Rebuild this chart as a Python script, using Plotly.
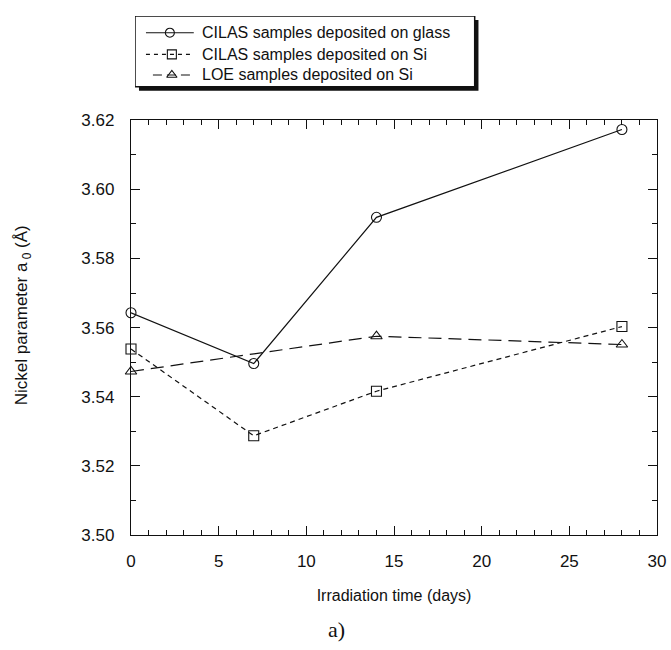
import plotly.graph_objects as go

# ---- data ----
days = [0, 7, 14, 28]
cilas_glass = [3.5643, 3.5496, 3.5919, 3.6173]
cilas_si = [3.5538, 3.5287, 3.5416, 3.5603]
loe_days = [0, 14, 28]
loe_si = [3.5473, 3.5575, 3.5551]

series_names = [
    "CILAS samples deposited on glass",
    "CILAS samples deposited on Si",
    "LOE samples deposited on Si",
]
x_ticks = [0, 5, 10, 15, 20, 25, 30]
y_ticks = [3.50, 3.52, 3.54, 3.56, 3.58, 3.60, 3.62]

FONT = "Liberation Sans, Arial, sans-serif"
BLACK = "#111111"
SI_DASH = "5px,4px"
LOE_DASH = "13px,7px"

fig = go.Figure()

fig.add_trace(go.Scatter(
    x=days, y=cilas_glass, mode="lines+markers", name=series_names[0],
    line=dict(color=BLACK, width=1.2),
    marker=dict(symbol="circle-open", size=10, color=BLACK, line=dict(width=1.1)),
    cliponaxis=False, showlegend=False))
fig.add_trace(go.Scatter(
    x=days, y=cilas_si, mode="lines+markers", name=series_names[1],
    line=dict(color=BLACK, width=1.2, dash=SI_DASH),
    marker=dict(symbol="square-open", size=10, color=BLACK, line=dict(width=1.1)),
    cliponaxis=False, showlegend=False))
fig.add_trace(go.Scatter(
    x=loe_days, y=loe_si, mode="lines+markers", name=series_names[2],
    line=dict(color=BLACK, width=1.2, dash=LOE_DASH),
    marker=dict(symbol="triangle-up-open", size=10, color=BLACK, line=dict(width=1.1)),
    cliponaxis=False, showlegend=False))

# ---- hand-drawn legend in an overlay axis (pixel-like coords) ----
leg_rows = [24, 46, 67]
leg_specs = [
    (146, 194, 170, "circle-open", None),
    (146, 194, 172, "square-open", "4px,4px"),
    (153, 194, 172, "triangle-up-open", "9px,5px"),
]
for (x0, x1, xm, sym, dash), yr, nm in zip(leg_specs, leg_rows, series_names):
    fig.add_trace(go.Scatter(
        x=[x0, x1], y=[yr, yr], mode="lines", xaxis="x2", yaxis="y2",
        line=dict(color=BLACK, width=1.1, dash=dash), showlegend=False, hoverinfo="skip"))
    fig.add_trace(go.Scatter(
        x=[xm], y=[yr], mode="markers", xaxis="x2", yaxis="y2",
        marker=dict(symbol=sym, size=9, color=BLACK, line=dict(width=1.1)),
        showlegend=False, hoverinfo="skip"))
    fig.add_annotation(x=200, y=yr, xref="x2", yref="y2", text=nm, showarrow=False,
                       xanchor="left", yanchor="middle",
                       font=dict(family=FONT, size=16, color=BLACK))

# shadow + box
fig.add_shape(type="rect", xref="x2", yref="y2", x0=139, x1=480, y0=11, y1=83,
              fillcolor=BLACK, line=dict(width=0), layer="below")
fig.add_shape(type="rect", xref="x2", yref="y2", x0=135, x1=476, y0=7, y1=79,
              fillcolor="white", line=dict(color=BLACK, width=1.5), layer="below")

axis_common = dict(
    showline=True, linecolor=BLACK, linewidth=1.3, mirror="ticks",
    ticks="inside", tickcolor=BLACK, tickwidth=1.2, ticklen=9,
    showgrid=False, zeroline=False,
    tickfont=dict(family=FONT, size=17, color=BLACK),
)

fig.update_layout(
    width=671, height=650,
    margin=dict(l=131, r=12, t=5, b=115),
    paper_bgcolor="white", plot_bgcolor="white",
    xaxis=dict(
        range=[0, 30], tickvals=x_ticks, ticktext=[str(v) for v in x_ticks],
        domain=[0, 1], anchor="y",
        minor=dict(dtick=1, ticks="inside", ticklen=5, tickcolor=BLACK, tickwidth=1.1),
        ticklabelstandoff=10,
        title=dict(text="Irradiation time (days)", standoff=20,
                   font=dict(family=FONT, size=16, color=BLACK)),
        **axis_common),
    yaxis=dict(
        range=[3.50, 3.62], tickvals=y_ticks, ticktext=[f"{v:.2f}" for v in y_ticks],
        domain=[0, 0.7962], anchor="x",
        minor=dict(dtick=0.01, ticks="inside", ticklen=5, tickcolor=BLACK, tickwidth=1.1),
        ticklabelstandoff=12,
        **axis_common),
    xaxis2=dict(domain=[0.0076, 0.661], anchor="y2", range=[135, 480], visible=False,
                fixedrange=True),
    yaxis2=dict(domain=[0.849, 0.9962], anchor="x2", range=[85, 7], visible=False,
                fixedrange=True),
    showlegend=False,
)

# y-axis title
fig.add_annotation(
    x=-0.206, y=0.421, xref="paper", yref="paper",
    text="Nickel parameter a<sub> 0</sub> (Å)", textangle=-90, showarrow=False,
    xanchor="center", yanchor="middle",
    font=dict(family=FONT, size=17, color=BLACK))

# panel label
fig.add_annotation(
    x=0.39, y=-0.181, xref="paper", yref="paper", text="a)", showarrow=False,
    xanchor="center", yanchor="middle",
    font=dict(family="Liberation Serif, DejaVu Serif, serif", size=22, color=BLACK))

fig.write_html("out.html")
